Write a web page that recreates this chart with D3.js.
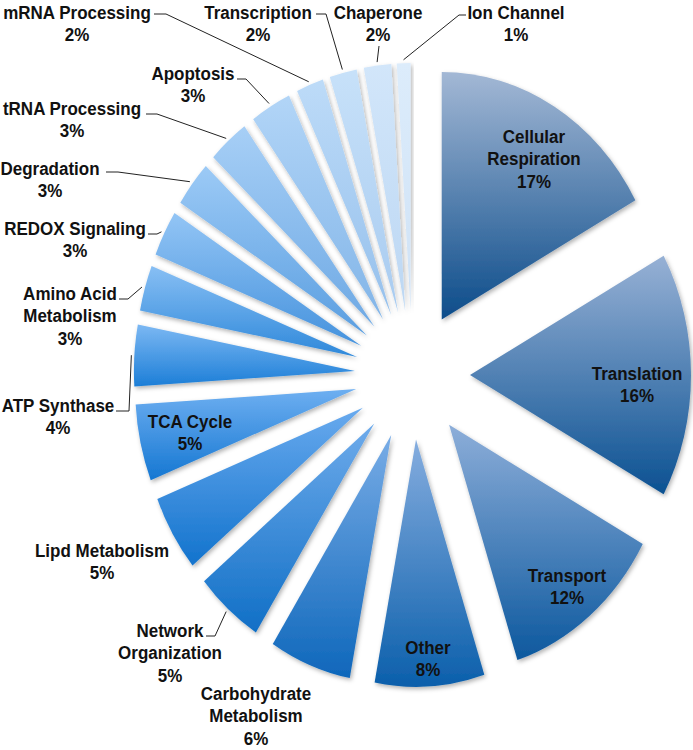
<!DOCTYPE html>
<html>
<head>
<meta charset="utf-8">
<script src="https://cdn.jsdelivr.net/npm/d3@7"></script>
<style>
  body { margin: 0; background: #fff; }
  svg text { font-family: "Liberation Sans", Arial, Helvetica, sans-serif; font-weight: bold; font-size: 17px; fill: #111; }
</style>
</head>
<body>
<svg width="693" height="750"></svg>
<script>
// categories, clockwise from 12 o'clock
var categories = ["Cellular\nRespiration", "Translation", "Transport", "Other",
  "Carbohydrate\nMetabolism", "Network\nOrganization", "Lipd Metabolism", "TCA Cycle",
  "ATP Synthase", "Amino Acid\nMetabolism", "REDOX Signaling", "Degradation",
  "tRNA Processing", "Apoptosis", "mRNA Processing", "Transcription", "Chaperone", "Ion Channel"];
var percents = [17, 16, 12, 8, 6, 5, 5, 5, 4, 3, 3, 3, 3, 3, 2, 2, 2, 1];

// gradient colours per slice (top, bottom)
var topColors = ["#a3b8d5", "#97b1d5", "#8daed9", "#85addf", "#78ace6", "#6eabeb", "#69aaee", "#6eaff1",
  "#7cb8f3", "#88bff4", "#93c5f5", "#9ccaf6", "#a7cff6", "#b2d5f7", "#bddbf8", "#c7e1f9", "#d2e6fa", "#dcecfb"];
var bottomColors = ["#0c4c8a", "#0b5192", "#0c589e", "#0b5fab", "#0e67bb", "#106fc6", "#1273cd", "#1577d2",
  "#1c7ed7", "#2e88da", "#4592dd", "#5a9ee0", "#6ea9e4", "#82b5e8", "#95c0ec", "#a8cbf0", "#bcd7f3", "#cfe2f6"];

// label layout (screen x of centre, first baseline y)
var labelPos = [[534, 143], [637, 380], [567, 582], [428, 654], [256, 700], [170, 637], [102, 557], [190, 428],
  [58, 412], [70, 300], [75, 235], [50, 175], [72, 115], [193, 80], [77, 19], [258, 19], [378, 19], [516, 19]];
// leader lines: start and elbow points, null = none
var leaders = [null, null, null, null, null, [[206, 636], [215, 636]], null, null,
  [[116, 411], [129, 411]], [[119, 299], [128, 299]], [[148, 234], [157, 234]], [[106, 172], [118, 172]],
  [[146, 114], [157, 114]], [[237, 79], [246, 79]], [[154, 14], [166, 14]], [[316, 14], [326, 14]],
  [[379, 46], [379, 46]], [[466, 15], [459, 15]]];

var svg = d3.select("svg");
var cx = 412.4, cy = 375, sy = 1.12;
var R = 221, explode = 57.6, lineH = 22.5;

var defs = svg.append("defs");
defs.append("filter").attr("id", "shadow").attr("x", "-20%").attr("y", "-20%").attr("width", "140%").attr("height", "140%")
  .append("feDropShadow").attr("dx", 1.5).attr("dy", 2).attr("stdDeviation", 2)
  .attr("flood-color", "#000").attr("flood-opacity", 0.3);

percents.forEach(function(p, i) {
  var lg = defs.append("linearGradient").attr("id", "grad" + i)
    .attr("x1", 0).attr("y1", 0).attr("x2", 0).attr("y2", 1);
  lg.append("stop").attr("offset", "0%").attr("stop-color", topColors[i]);
  lg.append("stop").attr("offset", "100%").attr("stop-color", bottomColors[i]);
});

var pie = d3.pie().sort(null).value(function(d) { return d; });
var arcs = pie(percents);
var arc = d3.arc().innerRadius(0).outerRadius(R);

function mid(d) { return (d.startAngle + d.endAngle) / 2; }

var g = svg.append("g").attr("transform", "translate(" + cx + "," + cy + ") scale(1," + sy + ")");

g.selectAll("path.slice")
  .data(arcs)
  .enter().append("path")
  .attr("class", "slice")
  .attr("d", arc)
  .attr("fill", function(d, i) { return "url(#grad" + i + ")"; })
  .attr("filter", "url(#shadow)")
  .attr("transform", function(d) {
    var a = mid(d);
    return "translate(" + (explode * Math.sin(a)) + "," + (-explode * Math.cos(a)) + ")";
  });

// leader lines in screen space
var line = d3.line();
svg.append("g").selectAll("path")
  .data(arcs.filter(function(d, i) { return leaders[i]; }))
  .enter().append("path")
  .attr("fill", "none")
  .attr("stroke", "#222")
  .attr("stroke-width", 1)
  .attr("d", function(d) {
    var L = leaders[d.index], a = mid(d), r = explode + R + 3;
    var end = [cx + r * Math.sin(a), cy - r * Math.cos(a) * sy];
    return line([L[0], L[1], end]);
  });

// labels, stretched like the pie
var lab = svg.append("g").attr("transform", "scale(1," + sy + ")");
var texts = lab.selectAll("text")
  .data(arcs)
  .enter().append("text")
  .attr("text-anchor", "middle");

texts.each(function(d, i) {
  var lines = categories[i].split("\n").concat([percents[i] + "%"]);
  var t = d3.select(this);
  lines.forEach(function(s, k) {
    t.append("tspan")
      .attr("x", labelPos[i][0])
      .attr("y", (labelPos[i][1] + k * lineH) / sy)
      .text(s);
  });
});
</script>
</body>
</html>
